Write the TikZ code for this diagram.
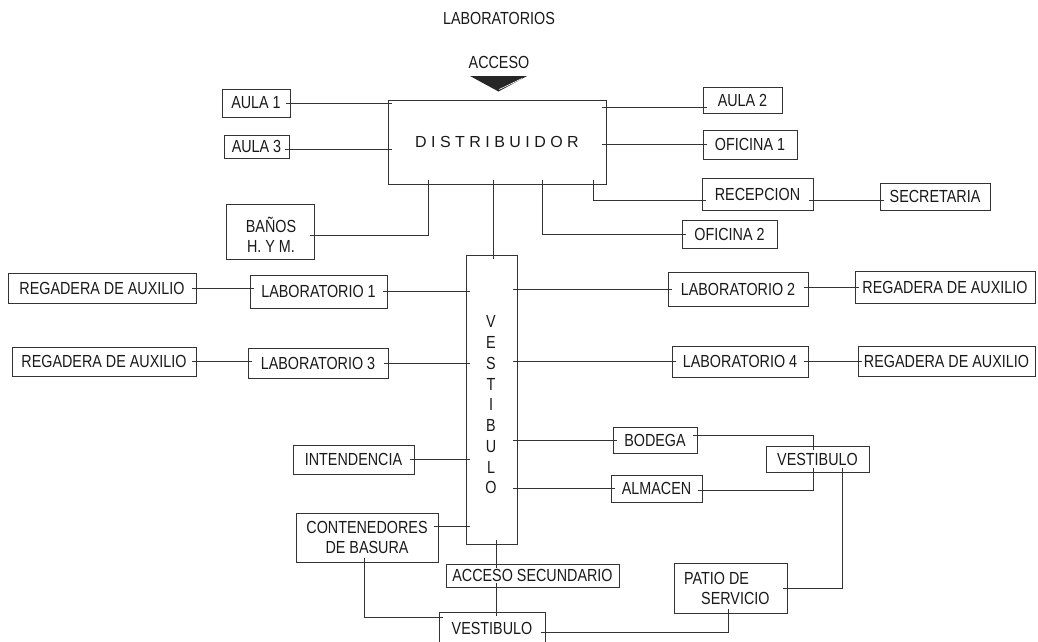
\documentclass[tikz,border=0pt]{standalone}
\usepackage{fontspec}
\setmainfont{Liberation Sans}
\newfontfamily\narrowsans{Liberation Sans}[FakeStretch=0.82]
\usetikzlibrary{calc}

\begin{document}
\begin{tikzpicture}[x=1pt,y=-1pt,
  room/.style={draw=black!80, line width=0.9pt, inner sep=0pt, align=center,
    font=\narrowsans\fontsize{17.5}{20}\selectfont, text=black!90},
  caption/.style={inner sep=0pt, align=center,
    font=\narrowsans\fontsize{17.5}{20}\selectfont, text=black!90},
  link/.style={draw=black!80, line width=0.8pt, shorten <=-4pt, shorten >=-4pt}]

\useasboundingbox (0,0) rectangle (1038,641);
\clip (0,0) rectangle (1038,641);

% heading and main entrance
\node[caption] (title) at (499,18) {LABORATORIOS};
\node[caption] (acceso) at (499,62) {ACCESO};
\fill[black!85] (470,76) -- (527,76) -- (498.5,91.5) -- cycle;
\draw[white, line width=0.6pt] (522,78.5) -- (499,89.5);

% distributor and surrounding rooms
\node[room, minimum width=218pt, minimum height=84pt,
      font=\fontsize{16}{19}\selectfont] (dist) at (497,142) {D I S T R I B U I D O R};
\node[room, minimum width=68pt, minimum height=28pt] (aula1) at (256,103) {AULA 1};
\node[room, minimum width=65pt, minimum height=23pt] (aula3) at (256.5,146.5) {AULA 3};
\node[room, minimum width=79pt, minimum height=26pt] (aula2) at (742.5,100) {AULA 2};
\node[room, minimum width=94pt, minimum height=29pt] (ofi1) at (750,144.5) {OFICINA 1};
\node[room, minimum width=111pt, minimum height=32pt] (recep) at (757.5,194) {RECEPCION};
\node[room, minimum width=110pt, minimum height=27pt] (secret) at (935,196.5) {SECRETARIA};
\node[room, minimum width=95pt, minimum height=28pt] (ofi2) at (729.5,234) {OFICINA 2};
\node[room, minimum width=88pt, minimum height=55pt] (banos) at (270,231.5) {};
\node[caption] (banostext) at (271,235) {BAÑOS\\H. Y M.};

% main hall
\node[room, minimum width=51pt, minimum height=289pt] (vest) at (491.5,399.5) {};
\node[caption, font=\narrowsans\fontsize{17.5}{20.75}\selectfont] (vesttext) at (491,405)
  {V\\E\\S\\T\\I\\B\\U\\L\\O};

% laboratories and showers
\node[room, minimum width=188pt, minimum height=30pt] (reg1) at (102,288) {REGADERA DE AUXILIO};
\node[room, minimum width=137pt, minimum height=33pt] (lab1) at (318.5,291.5) {LABORATORIO 1};
\node[room, minimum width=184pt, minimum height=29pt] (reg3) at (104,361.5) {REGADERA DE AUXILIO};
\node[room, minimum width=140pt, minimum height=30pt] (lab3) at (318,363) {LABORATORIO 3};
\node[room, minimum width=140pt, minimum height=34pt] (lab2) at (738,289) {LABORATORIO 2};
\node[room, minimum width=180pt, minimum height=32pt] (reg2) at (945,287) {REGADERA DE AUXILIO};
\node[room, minimum width=136pt, minimum height=31pt] (lab4) at (740,361.5) {LABORATORIO 4};
\node[room, minimum width=177pt, minimum height=30pt] (reg4) at (946.5,361) {REGADERA DE AUXILIO};

% service area
\node[room, minimum width=121pt, minimum height=29pt] (inten) at (353.5,459.5) {INTENDENCIA};
\node[room, minimum width=142pt, minimum height=49pt] (cont) at (367,537.5) {CONTENEDORES\\DE BASURA};
\node[room, minimum width=84pt, minimum height=26pt] (bodega) at (655,440) {BODEGA};
\node[room, minimum width=91pt, minimum height=27pt] (almacen) at (656.5,488.5) {ALMACEN};
\node[room, minimum width=103pt, minimum height=26pt] (vest2) at (817.5,459) {VESTIBULO};
\node[room, minimum width=173pt, minimum height=23pt] (accsec) at (532.5,575.5) {ACCESO SECUNDARIO};
\node[room, minimum width=106pt, minimum height=32pt] (vest3) at (492,628) {VESTIBULO};
\node[room, minimum width=113pt, minimum height=50pt] (patio) at (730.5,588) {};
\node[caption, anchor=west, align=left] (patiotext) at (684,588.5) {PATIO DE\\\hspace*{17pt}SERVICIO};

% connections around the distributor
\draw[link] (aula1.east) -- (aula1.east -| dist.west);
\draw[link] ($(aula3.east)+(0,2.5)$) -- ($(aula3.east -| dist.west)+(0,2.5)$);
\draw[link] ($(aula2.west -| dist.east)+(0,7)$) -- ($(aula2.west)+(0,7)$);
\draw[link] (ofi1.west -| dist.east) -- (ofi1.west);
\draw[link] ($(dist.south east)+(-13,0)$) |- ($(recep.west)+(0,6)$);
\draw[link] ($(recep.east)+(0,6)$) -- ($(recep.east -| secret.west)+(0,6)$);
\draw[link] ($(dist.south)+(45,0)$) |- (ofi2.west);
\draw[link] ($(dist.south)+(-69,0)$) |- ($(banos.east)+(0,3.5)$);
\draw[link] ($(dist.south -| vest.north)+(1.5,0)$) -- ($(vest.north)+(1.5,0)$);

% connections of the laboratories
\draw[link] (reg1.east) -- (reg1.east -| lab1.west);
\draw[link] (lab1.east) -- (lab1.east -| vest.west);
\draw[link] (reg3.east) -- (reg3.east -| lab3.west);
\draw[link] (lab3.east) -- (lab3.east -| vest.west);
\draw[link] (vest.east |- lab2.west) -- (lab2.west);
\draw[link] (reg2.west -| lab2.east) -- (reg2.west);
\draw[link] (vest.east |- lab4.west) -- (lab4.west);
\draw[link] (lab4.east) -- (lab4.east -| reg4.west);

% connections of the service area
\draw[link] (inten.east) -- (inten.east -| vest.west);
\draw[link] ($(cont.east)+(0,-11.5)$) -- ($(cont.east -| vest.west)+(0,-11.5)$);
\draw[link] (vest.east |- bodega.west) -- (bodega.west);
\draw[link] (vest.east |- almacen.west) -- (almacen.west);
\draw[link] ($(bodega.east)+(0,-5)$) -| ($(vest2.north)+(-4.5,0)$);
\draw[link] ($(almacen.east)+(0,1.5)$) -| ($(vest2.south)+(-4.5,0)$);
\draw[link] ($(vest2.south)+(24.5,0)$) |- (patio.east);
\draw[link] ($(vest.south)+(4.5,0)$) -- ($(vest.south |- accsec.north)+(4.5,0)$);
\draw[link] ($(vest.south |- accsec.south)+(4.5,0)$) -- ($(vest.south |- vest3.north)+(4.5,0)$);
\draw[link] ($(cont.south)+(-3,0)$) |- ($(vest3.west)+(0,-10.5)$);
\draw[link] ($(vest3.east)+(0,4)$) -| ($(patio.south)+(-2.5,0)$);

\end{tikzpicture}
\end{document}
